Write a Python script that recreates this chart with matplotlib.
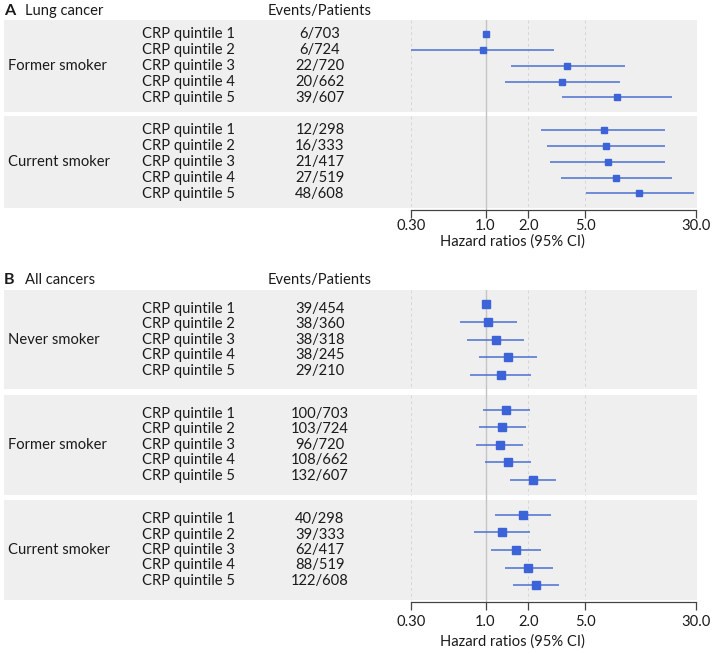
import numpy as np
import matplotlib
matplotlib.use("Agg")
import matplotlib.pyplot as plt
from matplotlib.patches import Rectangle
from matplotlib.ticker import FixedLocator, NullLocator
import matplotlib.transforms as mtrans

plt.rcParams['font.family'] = ['Lato', 'DejaVu Sans']

W, H = 713, 652
FS = 10.6

# ---------------- data ----------------
quintiles = ["CRP quintile 1", "CRP quintile 2", "CRP quintile 3", "CRP quintile 4", "CRP quintile 5"]

# Panel A: Lung cancer
a_groups = ["Former smoker", "Current smoker"]
a_events = [["6/703", "6/724", "22/720", "20/662", "39/607"],
            ["12/298", "16/333", "21/417", "27/519", "48/608"]]
a_hr = [[1.0, 0.96, 3.76, 3.44, 8.33],
        [6.75, 7.05, 7.2, 8.3, 12.0]]
a_lo = [[np.nan, 0.30, 1.51, 1.37, 3.46],
        [2.46, 2.70, 2.85, 3.37, 5.07]]
a_hi = [[np.nan, 3.02, 9.45, 8.75, 20.2],
        [18.3, 18.3, 18.1, 20.5, 28.9]]

# Panel B: All cancers
b_groups = ["Never smoker", "Former smoker", "Current smoker"]
b_events = [["39/454", "38/360", "38/318", "38/245", "29/210"],
            ["100/703", "103/724", "96/720", "108/662", "132/607"],
            ["40/298", "39/333", "62/417", "88/519", "122/608"]]
b_hr = [[1.0, 1.045, 1.18, 1.43, 1.28],
        [1.39, 1.30, 1.256, 1.44, 2.14],
        [1.83, 1.30, 1.63, 2.0, 2.26]]
b_lo = [[np.nan, 0.66, 0.746, 0.907, 0.775],
        [0.957, 0.897, 0.855, 0.989, 1.48],
        [1.16, 0.832, 1.085, 1.36, 1.56]]
b_hi = [[np.nan, 1.65, 1.87, 2.28, 2.09],
        [2.04, 1.91, 1.84, 2.10, 3.11],
        [2.87, 2.06, 2.46, 2.96, 3.28]]

xticks = [0.30, 1.0, 2.0, 5.0, 30.0]
xticklabels = ["0.30", "1.0", "2.0", "5.0", "30.0"]
xlabel = "Hazard ratios (95% CI)"

# ---------------- style ----------------
BOX = "#efefef"
BLUE = "#3c63d8"
LINE = "#4b70d2"
GRID = "#d6d6d6"
REF = "#c4c4c4"
TXT = "#1a1a1a"

fig = plt.figure(figsize=(W / 100, H / 100), dpi=100)
fig.patch.set_facecolor("white")

AX_L, AX_R = 411, 696
BOX_L, BOX_R = 4, 697


def fy(y):
    return 1 - y / H


def ftext(x, y, s, **kw):
    kw.setdefault("fontsize", FS)
    kw.setdefault("color", TXT)
    kw.setdefault("va", "center")
    fig.text(x / W, fy(y), s, **kw)


def panel(letter, title, top, spine, boxes, groups, events, hr, lo, hi,
          text_sp, mrow_sp, msize, tickpad, label_y):
    # header
    ftext(4, top, letter, fontweight="bold", fontsize=FS + 1, ha="left")
    ftext(25, top, title, ha="left")
    ftext(320, top, "Events/Patients", ha="center")

    y0 = boxes[0][0]
    ax = fig.add_axes([AX_L / W, fy(spine), (AX_R - AX_L) / W, (spine - y0) / H])
    ax.set_xscale("log")
    ax.set_xlim(0.3, 30)
    ax.set_ylim(spine, y0)
    ax.patch.set_alpha(0)
    for s in ["top", "left", "right"]:
        ax.spines[s].set_visible(False)
    ax.spines["bottom"].set_color("#444444")
    ax.spines["bottom"].set_linewidth(0.9)
    ax.xaxis.set_major_locator(FixedLocator(xticks))
    ax.xaxis.set_minor_locator(NullLocator())
    ax.set_xticklabels(xticklabels, fontsize=FS, color=TXT)
    ax.tick_params(axis="x", length=6, width=0.9, color="#444444", pad=tickpad)
    ax.set_yticks([])

    blend = mtrans.blended_transform_factory(fig.transFigure, ax.transData)
    for (bt, bb) in boxes:
        r = Rectangle((BOX_L / W, bt), (BOX_R - BOX_L) / W, bb - bt,
                      transform=blend, facecolor=BOX, edgecolor="none",
                      clip_on=False, zorder=0)
        ax.add_patch(r)
        for xv in xticks:
            if xv == 1.0:
                continue
            ax.plot([xv, xv], [bt, bb], color=GRID, lw=0.7, ls=(0, (3, 3)),
                    zorder=1)
    ax.axvline(1.0, color=REF, lw=1.0, zorder=1)

    for gi, (bt, bb) in enumerate(boxes):
        c = (bt + bb) / 2
        n = len(hr[gi])
        ys = [c + (i - 2) * mrow_sp for i in range(n)]
        for i in range(n):
            if not np.isnan(lo[gi][i]):
                ax.plot([lo[gi][i], hi[gi][i]], [ys[i], ys[i]], color=LINE,
                        lw=1.1, zorder=2, solid_capstyle="butt")
            ax.plot(hr[gi][i], ys[i], marker="s", ms=msize, color=BLUE,
                    mec=BLUE, zorder=3)
        ftext(8, c, groups[gi], ha="left")
        for i in range(n):
            ty = c + (i - 2) * text_sp
            ftext(141.5, ty, quintiles[i], ha="left")
            ftext(320, ty, events[gi][i], ha="center")

    ftext(512, label_y, xlabel, ha="center")
    return ax


panel("A", "Lung cancer", 11, 210, [(20, 112), (116, 208)], a_groups,
      a_events, a_hr, a_lo, a_hi, 15.8, 15.75, 5.0, 0.5, 242)

panel("B", "All cancers", 280, 602, [(290, 389), (394.5, 495), (500, 600)],
      b_groups, b_events, b_hr, b_lo, b_hi, 15.5, 17.6, 5.6, 3.0, 641.5)

fig.savefig("out.png", dpi=100, facecolor="white")
